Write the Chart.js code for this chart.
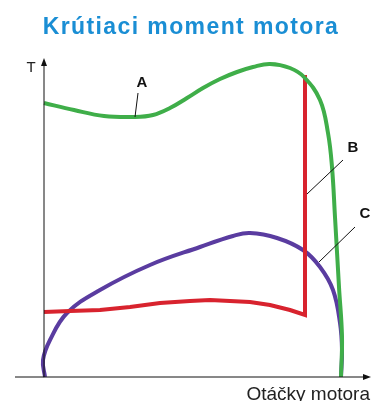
<!DOCTYPE html>
<html>
<head>
<meta charset="utf-8">
<script src="https://cdn.jsdelivr.net/npm/chart.js@4"></script>
<style>
  html, body { margin: 0; padding: 0; background: #fff; }
  #wrap { width: 371px; height: 401px; }
</style>
</head>
<body>
<div id="wrap"><canvas id="torqueChart"></canvas></div>
<script>
// values (engine speed / torque, arbitrary units)
// curve A (green)
const rpmA    = [0, 30, 60, 91, 109, 126, 143, 159, 176, 193, 209, 226, 246, 260, 276, 284, 288, 291, 295, 298, 297];
const torqueA = [274, 267, 261, 260, 262, 269, 279, 289, 298, 305, 310, 313, 309, 300, 277, 244, 210, 160, 90, 40, 0];

// curve B (red)
const rpmB    = [0, 26, 56, 86, 116, 146, 166, 186, 206, 226, 246, 261, 261];
const torqueB = [65, 66, 67, 70, 74, 76, 77, 76, 75, 72, 67, 62, 302];

// curve C (purple)
const rpmC    = [1, -1, 6, 23, 56, 106, 156, 189, 206, 233, 259, 276, 289, 296, 298, 297];
const torqueC = [0, 17, 37, 64, 87, 112, 130, 141, 144, 139, 127, 110, 87, 54, 27, 0];

const labelNames = ["A", "B", "C"];
const titleText = "Krútiaci moment motora";
const yAxisTitle = "T";
const xAxisTitle = "Otáčky motora";

function toPoints(xs, ys) {
    return xs.map((x, i) => ({ x: x, y: ys[i] }));
}

const axesPlugin = {
    id: "axesPlugin",
    afterDatasetsDraw(chart) {
        const ctx = chart.ctx;
        const xs = chart.scales.x, ys = chart.scales.y;
        const x0 = xs.getPixelForValue(0), y0 = ys.getPixelForValue(0);
        ctx.save();

        // title
        ctx.fillStyle = "#1a8ed4";
        ctx.font = "bold 23px 'Liberation Sans', Arial, sans-serif";
        ctx.letterSpacing = "1.4px";
        ctx.textAlign = "center";
        ctx.textBaseline = "alphabetic";
        ctx.fillText(titleText, 191, 34);
        ctx.letterSpacing = "0px";

        ctx.strokeStyle = "#111";
        ctx.fillStyle = "#111";
        ctx.lineWidth = 1;
        // y axis
        ctx.beginPath();
        ctx.moveTo(x0, y0);
        ctx.lineTo(x0, 63);
        ctx.stroke();
        ctx.beginPath();
        ctx.moveTo(x0, 58); ctx.lineTo(x0 - 3, 66); ctx.lineTo(x0 + 3, 66);
        ctx.closePath(); ctx.fill();
        // x axis
        ctx.beginPath();
        ctx.moveTo(15, y0);
        ctx.lineTo(366, y0);
        ctx.stroke();
        ctx.beginPath();
        ctx.moveTo(371, y0); ctx.lineTo(363, y0 - 3); ctx.lineTo(363, y0 + 3);
        ctx.closePath(); ctx.fill();

        ctx.fillStyle = "#222";
        ctx.font = "15px 'Liberation Sans', Arial, sans-serif";
        ctx.textBaseline = "middle";
        ctx.textAlign = "center";
        ctx.fillText(yAxisTitle, 31, 68);
        ctx.font = "19px 'Liberation Sans', Arial, sans-serif";
        ctx.textAlign = "right";
        ctx.textBaseline = "alphabetic";
        ctx.fillText(xAxisTitle, 370, 400);

        // curve labels with leader lines
        const px = v => xs.getPixelForValue(v), py = v => ys.getPixelForValue(v);
        const labels = [
            { t: labelNames[0], lx: 142, ly: 83, from: [138, 93], to: [px(91), py(260)] },
            { t: labelNames[1], lx: 353, ly: 148, from: [343, 160], to: [px(263), py(183)] },
            { t: labelNames[2], lx: 365, ly: 214, from: [355, 227], to: [px(275), py(115)] }
        ];
        ctx.fillStyle = "#111";
        ctx.font = "bold 15px 'Liberation Sans', Arial, sans-serif";
        ctx.textAlign = "center";
        ctx.textBaseline = "middle";
        labels.forEach(l => {
            ctx.beginPath();
            ctx.moveTo(l.from[0], l.from[1]);
            ctx.lineTo(l.to[0], l.to[1]);
            ctx.stroke();
            ctx.fillText(l.t, l.lx, l.ly);
        });
        ctx.restore();
    }
};

new Chart(document.getElementById("torqueChart"), {
    type: "scatter",
    data: {
        datasets: [
            {
                label: "A",
                data: toPoints(rpmA, torqueA),
                showLine: true,
                borderColor: "#3fae49",
                borderWidth: 4,
                pointRadius: 0,
                tension: 0.4,
                clip: false
            },
            {
                label: "B",
                data: toPoints(rpmB, torqueB),
                showLine: true,
                borderColor: "#d8232e",
                borderWidth: 4,
                pointRadius: 0,
                tension: 0,
                clip: false
            },
            {
                label: "C",
                data: toPoints(rpmC, torqueC),
                showLine: true,
                borderColor: "#5a3ca0",
                borderWidth: 4,
                pointRadius: 0,
                tension: 0.4,
                clip: false
            }
        ]
    },
    options: {
        responsive: true,
        maintainAspectRatio: false,
        animation: false,
        layout: { padding: { left: 15, right: 0, top: 62, bottom: 24 } },
        plugins: {
            legend: { display: false },
            tooltip: { enabled: false },
            title: { display: false }
        },
        scales: {
            x: { type: "linear", display: false, min: -29, max: 327 },
            y: { type: "linear", display: false, min: 0, max: 315 }
        }
    },
    plugins: [axesPlugin]
});
</script>
</body>
</html>
